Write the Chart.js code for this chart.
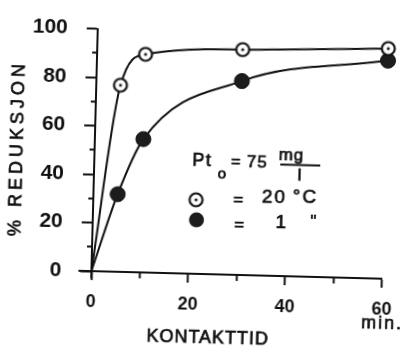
<!DOCTYPE html>
<html>
<head>
<meta charset="utf-8">
<script src="https://cdn.jsdelivr.net/npm/chart.js@4/dist/chart.umd.min.js"></script>
<style>
html, body { margin: 0; padding: 0; background: #fff; overflow: hidden; }
/* 原圖是掃描件，整張略微順時針傾斜 */
#chart-area { display: block; transform: rotate(1.5deg); transform-origin: 50% 50%; }
</style>
</head>
<body>
<canvas id="chart-area" width="406" height="347"></canvas>
<script>
// 資料
var minutes = [0, 5, 10, 30, 60];
var reduction20 = [0, 77, 90, 93, 95];   // ⊙ = 20 °C
var reduction1 = [0, 32, 55, 80, 90];    // ● = 1 "
var xTickLabels = [0, 20, 40, 60];
var yTickLabels = [0, 20, 40, 60, 80, 100];

var yTitle = '% REDUKSJON';
var xTitle = 'KONTAKTTID';
var xUnit = 'min.';

var ink = '#111';
var font = '"Liberation Sans", Arial, sans-serif';

function toXY(xs, ys) {
	var out = [];
	for (var i = 0; i < xs.length; i++) {
		out.push({x: xs[i], y: ys[i]});
	}
	return out;
}

// 空心圓加中心點
function openMark(r) {
	var cv = document.createElement('canvas');
	var s = 2 * r + 5;
	cv.width = s; cv.height = s;
	var g = cv.getContext('2d');
	g.beginPath();
	g.arc(s / 2, s / 2, r, 0, Math.PI * 2);
	g.fillStyle = '#fff';
	g.fill();
	g.lineWidth = 2.2;
	g.strokeStyle = ink;
	g.stroke();
	g.beginPath();
	g.arc(s / 2, s / 2, 1.5, 0, Math.PI * 2);
	g.fillStyle = ink;
	g.fill();
	return cv;
}
var openPoint = openMark(6.5);

function hideFirst(size) {
	return function(c) { return c.dataIndex === 0 ? 0 : size; };
}

// 手寫字較粗，描一圈細邊
function text(c, str, x, y, size, spacing) {
	c.font = size + 'px ' + font;
	c.letterSpacing = (spacing || 0) + 'px';
	c.lineWidth = 0.7;
	c.fillText(str, x, y);
	c.strokeText(str, x, y);
}

// 軸標題、單位與圖例（手寫註記）
var notes = {
	id: 'notes',
	afterDraw: function(chart) {
		var c = chart.ctx;
		var xs = chart.scales.x, ys = chart.scales.y;
		c.save();
		c.fillStyle = ink;
		c.strokeStyle = ink;
		c.lineWidth = 2;

		// 原點處軸線略為延伸
		c.beginPath();
		c.moveTo(xs.left - 13, ys.bottom);
		c.lineTo(xs.left, ys.bottom);
		c.moveTo(xs.left, ys.bottom);
		c.lineTo(xs.left, ys.bottom + 7);
		c.stroke();

		c.textAlign = 'center';
		c.textBaseline = 'middle';

		c.save();
		c.translate(17, 155);
		c.rotate(-Math.PI / 2);
		text(c, yTitle, 2, 0, 18, 4);
		c.restore();

		text(c, xTitle, 212, 338, 18, 1);
		text(c, xUnit, 386, 319, 18, 2);

		// 圖例
		text(c, 'Pt', 202, 161, 18, 1.5);
		text(c, 'o', 222, 174, 15);
		text(c, '=', 235.5, 162, 16);
		text(c, '75', 257, 161, 17, 1);
		c.textBaseline = 'alphabetic';
		text(c, 'mg', 291, 158, 17, 1);
		c.textBaseline = 'middle';
		c.lineWidth = 2;
		c.beginPath();
		c.moveTo(280, 162.5);
		c.lineTo(320, 162.5);
		c.stroke();
		text(c, 'l', 299.5, 174, 16);

		c.drawImage(openPoint, 196.7 - openPoint.width / 2, 200 - openPoint.height / 2);
		text(c, '=', 239, 199.5, 17);
		text(c, '20', 275, 195.5, 19, 2);
		text(c, '°C', 306, 195, 19, 2);

		c.beginPath();
		c.arc(197.7, 220, 7.5, 0, Math.PI * 2);
		c.fillStyle = '#1c1c1c';
		c.fill();
		c.fillStyle = ink;
		text(c, '=', 240.5, 224.5, 17);
		text(c, '1', 282, 220.5, 19);
		text(c, '"', 314.5, 219, 17);
		c.restore();
	}
};

var ctx = document.getElementById('chart-area');
var myChart = new Chart(ctx, {
	type: 'line',
	data: {
		datasets: [{
			label: '20 °C',
			data: toXY(minutes, reduction20),
			borderColor: ink,
			borderWidth: 2,
			cubicInterpolationMode: 'monotone',
			pointStyle: openPoint,
			pointRadius: hideFirst(6.5),
			pointHoverRadius: hideFirst(6.5),
			clip: false
		}, {
			label: '1 "',
			data: toXY(minutes, reduction1),
			borderColor: ink,
			borderWidth: 2,
			cubicInterpolationMode: 'monotone',
			pointStyle: 'circle',
			pointRadius: hideFirst(7.5),
			pointHoverRadius: hideFirst(7.5),
			pointBackgroundColor: '#1c1c1c',
			pointBorderColor: ink,
			pointBorderWidth: 1,
			clip: false
		}]
	},
	options: {
		responsive: false,
		animation: false,
		layout: { padding: { top: 26, right: 14, left: 0, bottom: 0 } },
		plugins: { legend: { display: false }, tooltip: { enabled: false } },
		scales: {
			x: {
				type: 'linear',
				min: 0,
				max: 60,
				afterFit: function(s) { s.height = 73; },
				border: { color: ink, width: 2 },
				grid: {
					drawOnChartArea: false,
					tickLength: 9,
					tickWidth: 2,
					tickColor: ink,
					tickBorderDash: function(c) { return c.tick && c.tick.value % 20 ? [5, 30] : []; }
				},
				ticks: {
					stepSize: 10,
					padding: 11,
					autoSkip: false,
					maxRotation: 0,
					color: ink,
					font: { family: font, size: 18, weight: 'bold' },
					callback: function(v) { return xTickLabels.indexOf(v) >= 0 ? String(v) : ''; }
				},
				title: { display: false }
			},
			y: {
				min: 0,
				max: 100,
				afterFit: function(s) { s.width = 94; },
				border: { color: ink, width: 2 },
				grid: {
					drawOnChartArea: false,
					tickLength: 11,
					tickWidth: 2,
					tickColor: ink,
					tickBorderDash: function(c) { return c.tick && c.tick.value % 20 ? [0, 6, 6, 30] : []; }
				},
				ticks: {
					stepSize: 10,
					padding: 19,
					autoSkip: false,
					color: ink,
					font: { family: font, size: 21, weight: 'bold' },
					callback: function(v) { return yTickLabels.indexOf(v) >= 0 ? String(v) : ''; }
				},
				title: { display: false }
			}
		}
	},
	plugins: [notes]
});
</script>
</body>
</html>
